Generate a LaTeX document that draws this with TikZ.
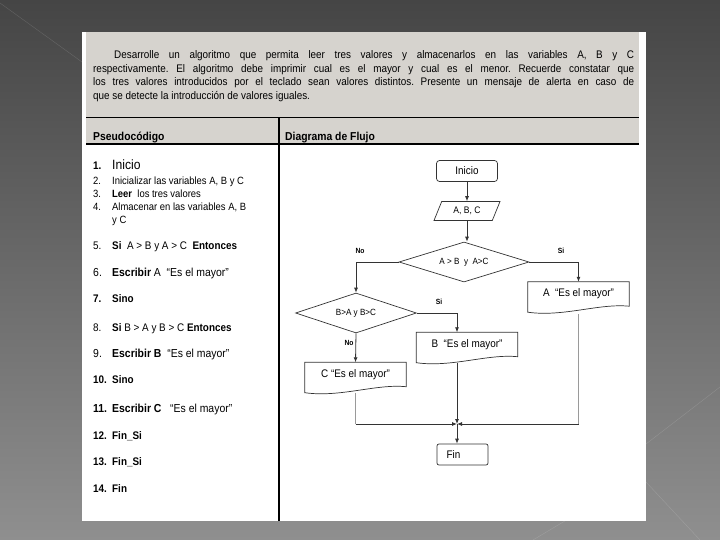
\documentclass[tikz,border=0pt]{standalone}
\usepackage{fontspec}
\setmainfont{Liberation Sans}[FakeStretch=0.9]
\usetikzlibrary{shapes.geometric, calc, arrows.meta}

\definecolor{bgtop}{HTML}{454545}
\definecolor{bgbot}{HTML}{8F8F8F}
\definecolor{bandgray}{HTML}{D6D3CE}
\definecolor{flowline}{HTML}{333333}
\definecolor{paleline}{HTML}{9A9A9A}

\newcommand{\nro}[1]{\makebox[19pt][l]{#1}}
% outline of a document shape (wavy bottom) round a node
\newcommand{\docoutline}[1]{%
  \draw[docline] (#1.north west) -- (#1.north east) -- ([yshift=6pt]#1.south east)
    .. controls ([yshift=9pt]$(#1.south west)!0.7!(#1.south east)$)
    and ([yshift=-5pt]$(#1.south west)!0.35!(#1.south east)$) .. (#1.south west) -- cycle;}

\tikzset{
  tabline/.style={line width=1.2pt, black},
  code/.style={anchor=base west, inner sep=0pt, font=\fontsize{11}{13}\selectfont},
  small/.style={font=\fontsize{10.5}{12}\selectfont},
  wide/.style={font=\fontsize{11.6}{13}\selectfont},
  startbox/.style={draw=black!80, line width=0.7pt, rounded corners=3pt,
    minimum width=61pt, minimum height=21pt, font=\fontsize{11}{13}\selectfont},
  inbox/.style={draw=black!80, line width=0.7pt, trapezium, trapezium left angle=52,
    trapezium right angle=128, trapezium stretches body, minimum width=66pt,
    minimum height=19pt, inner sep=1pt, font=\fontsize{9.5}{11}\selectfont},
  decision/.style={draw=black!80, line width=0.7pt, diamond, aspect=3, inner sep=0pt,
    font=\fontsize{9}{11}\selectfont},
  docbox/.style={minimum width=101pt, minimum height=30pt, inner sep=0pt,
    text height=7pt, text depth=8pt, font=\fontsize{11}{13}\selectfont},
  docline/.style={draw=black!80, line width=0.7pt},
  arr/.style={-{Latex[length=5pt,width=4pt,color=flowline]}, line width=0.8pt, flowline},
  pale/.style={line width=0.8pt, paleline},
  tag/.style={font=\bfseries\fontsize{7.5}{9}\selectfont, inner sep=0pt}
}

\begin{document}
\begin{tikzpicture}[x=1pt,y=-1pt]
\useasboundingbox (0,0) rectangle (720,540);
% slide background
\shade[top color=bgtop, bottom color=bgbot] (0,0) rectangle (720,540);
\draw[white, opacity=0.15] (0,3) -- (82,62);
\draw[white, opacity=0.15] (720,387) -- (646,444);
\draw[white, opacity=0.15] (646,482) -- (700,540);
\draw[white, opacity=0.15] (533,540) -- (600,500);

% page
\fill[white] (82,32) rectangle (646,521);
\fill[bandgray] (86,32) rectangle (639,144);
\draw[tabline] (86,117.5) -- (639,117.5);
\draw[tabline] (86,144) -- (639,144);
\draw[tabline] (279,117.5) -- (279,521);

% statement
\frenchspacing
\node[anchor=north west, inner sep=0pt, text width=541pt, align=justify,
  font=\fontsize{11}{13.5}\selectfont] (enun) at (93,50.5)
  {\hspace*{21pt}Desarrolle un algoritmo que permita leer tres valores y almacenarlos en las variables A, B y C\linebreak
  respectivamente. El algoritmo debe imprimir cual es el mayor y cual es el menor. Recuerde constatar que\linebreak
  los tres valores introducidos por el teclado sean valores distintos. Presente un mensaje de alerta en caso de\linebreak
  que se detecte la introducción de valores iguales.};

% headers
\node[code, font=\bfseries\fontsize{11.5}{13}\selectfont] (hpseudo) at (93,141) {Pseudocódigo};
\node[code, font=\bfseries\fontsize{11.5}{13}\selectfont] (hflujo) at (285,141) {Diagrama de Flujo};

% pseudocode
\node[code] (p1) at (93,169.5) {\nro{\textbf{1.}}{\fontsize{13.5}{15}\selectfont Inicio}};
\node[code, small] (p2) at (93,185) {\nro{2.}Inicializar las variables A, B y C};
\node[code, small] (p3) at (93,198) {\nro{3.}\textbf{Leer}\ \ los tres valores};
\node[code, small] (p4) at (93,211) {\nro{4.}Almacenar en las variables A, B};
\node[code, small] (p4b) at (112,223) {y C};
\node[code] (p5) at (93,249.5) {\nro{5.}\textbf{Si}\ \ A > B y A > C\ \ \textbf{Entonces}};
\node[code, wide] (p6) at (93,276) {\nro{6.}\textbf{Escribir} A\ \ “Es el mayor”};
\node[code] (p7) at (93,302) {\nro{\textbf{7.}}\textbf{Sino}};
\node[code] (p8) at (93,331) {\nro{8.}\textbf{Si} B > A y B > C \textbf{Entonces}};
\node[code, wide] (p9) at (93,357) {\nro{9.}\textbf{Escribir B}\ \ “Es el mayor”};
\node[code] (p10) at (93,383) {\nro{\textbf{10.}}\textbf{Sino}};
\node[code, wide] (p11) at (93,412) {\nro{\textbf{11.}}\textbf{Escribir C}\ \ \ “Es el mayor”};
\node[code] (p12) at (93,439) {\nro{\textbf{12.}}\textbf{Fin\_Si}};
\node[code] (p13) at (93,465) {\nro{\textbf{13.}}\textbf{Fin\_Si}};
\node[code] (p14) at (93,492) {\nro{\textbf{14.}}\textbf{Fin}};

% flowchart
\node[startbox] (inicio) at (467,171) {Inicio};
\node[inbox] (leer) at (467,211) {A, B, C};
\node[decision, minimum width=130pt, minimum height=40pt] (d1) at (464,262) {A > B\ \ y\ \ A>C};
\node[decision, minimum width=121pt, minimum height=40pt] (d2) at (356,313) {B>A y B>C};
\node[docbox] (amay) at (578.5,297) {A\ \ “Es el mayor”};
\node[docbox] (bmay) at (467,347.5) {B\ \ “Es el mayor”};
\node[docbox] (cmay) at (355.5,377.5) {C “Es el mayor”};
\node[startbox, rounded corners=2pt, minimum width=51pt] (fin) at (462.5,454.5) {Fin\hspace*{18pt}};
\docoutline{amay}
\docoutline{bmay}
\docoutline{cmay}
\coordinate (m) at (457,424);

\draw[arr] (inicio) -- (leer);
\draw[arr] (leer.south) -- (leer.south |- d1.north);
\draw[arr] (d1.west) -| (d2.north);
\draw[arr] (d1.east) -| (amay.north);
\draw[arr] (d2.east) -| ([xshift=-10pt]bmay.north);
\draw[arr] (d2.south) -- (cmay.north);
\draw[pale] (cmay.south) -- (cmay.south |- m);
\draw[arr] (cmay.south |- m) -- (m);
\draw[pale] ([yshift=-2pt]amay.south) -- (amay.south |- m);
\draw[arr] (amay.south |- m) -- (m);
\draw[arr] (m |- bmay.south) -- (m);
\draw[arr] (m) -- (m |- fin.north);

\node[tag] (no1) at (360,251) {No};
\node[tag] (si1) at (561,251) {Si};
\node[tag] (si2) at (439,302) {Si};
\node[tag] (no2) at (349,343) {No};
\end{tikzpicture}
\end{document}
